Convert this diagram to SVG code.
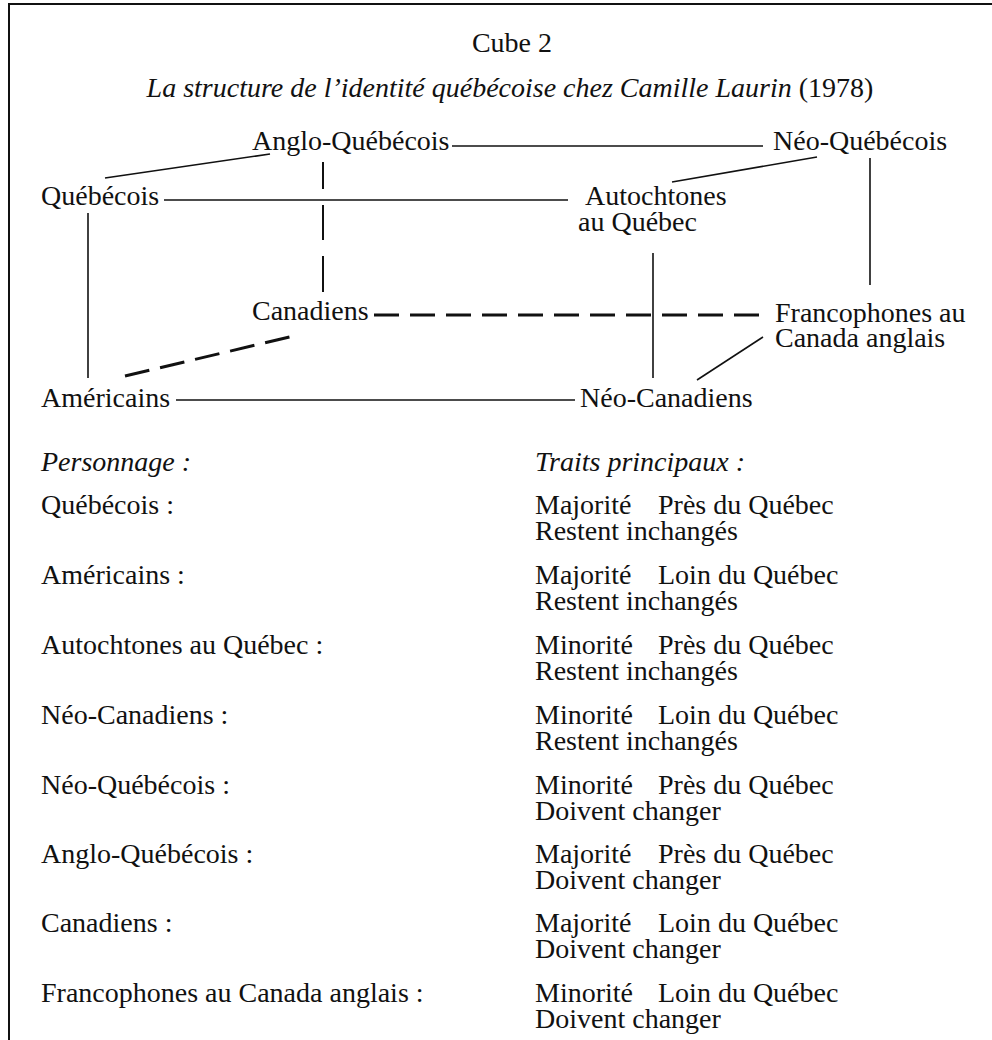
<svg xmlns="http://www.w3.org/2000/svg" width="992" height="1040" viewBox="0 0 992 1040">
<style>
text{font-family:"Liberation Serif","Times New Roman",serif;font-size:28px;fill:#111}
.it{font-style:italic}
.s{stroke:#111;stroke-width:1.6;fill:none}
.d{stroke:#111;stroke-width:3;fill:none;stroke-dasharray:25 11}
.f{stroke:#111;stroke-width:2;fill:none}
</style>
<rect width="992" height="1040" fill="#fff"/>
<g id="frame">
<line class="f" x1="8" y1="4" x2="992" y2="4"/>
<line class="f" x1="9" y1="4" x2="9" y2="1040"/>
</g>
<g id="title">
<text x="512" y="52" text-anchor="middle">Cube 2</text>
<text x="510" y="97" text-anchor="middle"><tspan class="it">La structure de l’identité québécoise chez Camille Laurin</tspan> (1978)</text>
</g>
<g id="connectors">
<line class="s" x1="452" y1="146" x2="763" y2="146"/>
<line class="s" x1="105" y1="178" x2="270" y2="154"/>
<line class="s" x1="672" y1="182" x2="817" y2="157"/>
<line class="s" x1="164" y1="200" x2="568" y2="200"/>
<line class="s" x1="88" y1="213" x2="88" y2="378"/>
<line class="s" x1="653" y1="253" x2="653" y2="378"/>
<line class="s" x1="870" y1="158" x2="870" y2="285"/>
<line class="s" x1="176" y1="400" x2="575" y2="400"/>
<line class="s" x1="697" y1="380" x2="763" y2="337"/>
<line class="f" x1="323" y1="162" x2="323" y2="189"/>
<line class="f" x1="323" y1="205" x2="323" y2="240"/>
<line class="f" x1="323" y1="256" x2="323" y2="292"/>
<line class="d" x1="374" y1="315" x2="766" y2="315"/>
<line class="d" x1="125" y1="376" x2="298" y2="335"/>
</g>
<g id="n-anglo"><text x="252" y="150">Anglo-Québécois</text></g>
<g id="n-neoq"><text x="773" y="150">Néo-Québécois</text></g>
<g id="n-quebecois"><text x="41" y="205">Québécois</text></g>
<g id="n-autochtones"><text x="585" y="205">Autochtones</text><text x="578" y="231">au Québec</text></g>
<g id="n-canadiens"><text x="252" y="320">Canadiens</text></g>
<g id="n-francophones"><text x="775" y="322">Francophones au</text><text x="775" y="347">Canada anglais</text></g>
<g id="n-americains"><text x="41" y="407">Américains</text></g>
<g id="n-neocan"><text x="580" y="407">Néo-Canadiens</text></g>
<g id="table">
<text class="it" x="41" y="471">Personnage :</text>
<text class="it" x="535" y="471">Traits principaux :</text>
<text x="41" y="514">Québécois :</text>
<text x="535" y="514">Majorité<tspan x="658">Près du Québec</tspan></text>
<text x="535" y="540">Restent inchangés</text>
<text x="41" y="584">Américains :</text>
<text x="535" y="584">Majorité<tspan x="658">Loin du Québec</tspan></text>
<text x="535" y="610">Restent inchangés</text>
<text x="41" y="654">Autochtones au Québec :</text>
<text x="535" y="654">Minorité<tspan x="658">Près du Québec</tspan></text>
<text x="535" y="680">Restent inchangés</text>
<text x="41" y="724">Néo-Canadiens :</text>
<text x="535" y="724">Minorité<tspan x="658">Loin du Québec</tspan></text>
<text x="535" y="750">Restent inchangés</text>
<text x="41" y="794">Néo-Québécois :</text>
<text x="535" y="794">Minorité<tspan x="658">Près du Québec</tspan></text>
<text x="535" y="820">Doivent changer</text>
<text x="41" y="863">Anglo-Québécois :</text>
<text x="535" y="863">Majorité<tspan x="658">Près du Québec</tspan></text>
<text x="535" y="889">Doivent changer</text>
<text x="41" y="932">Canadiens :</text>
<text x="535" y="932">Majorité<tspan x="658">Loin du Québec</tspan></text>
<text x="535" y="958">Doivent changer</text>
<text x="41" y="1002">Francophones au Canada anglais :</text>
<text x="535" y="1002">Minorité<tspan x="658">Loin du Québec</tspan></text>
<text x="535" y="1028">Doivent changer</text>
</g>
</svg>
